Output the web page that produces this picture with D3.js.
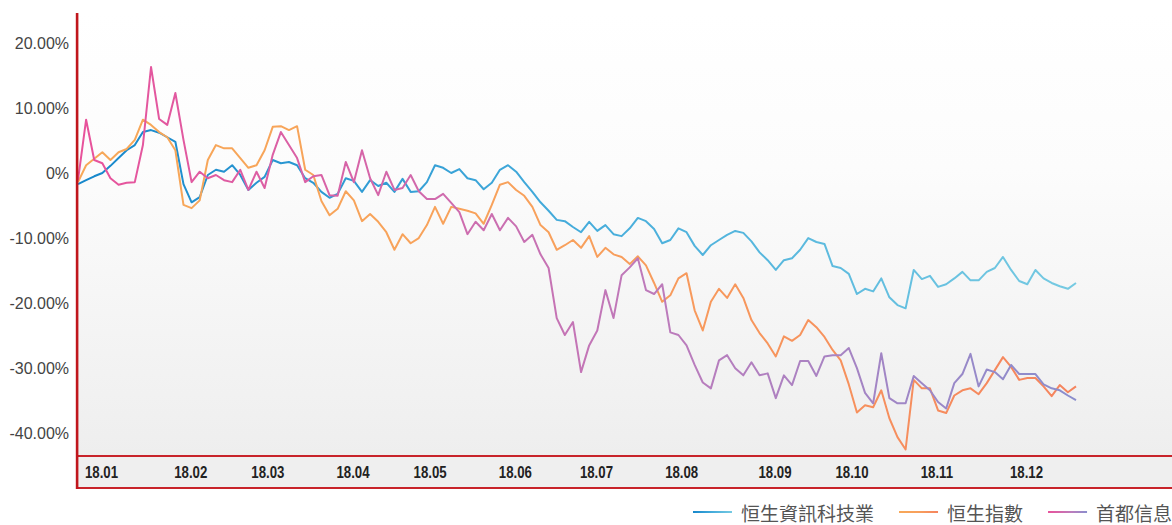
<!DOCTYPE html>
<html>
<head>
<meta charset="utf-8">
<script src="https://cdn.jsdelivr.net/npm/d3@7/dist/d3.min.js"></script>
<style>
  html, body { margin: 0; padding: 0; background: #fff; }
  svg { display: block; }
</style>
</head>
<body>
<svg id="chart" width="1172" height="525"></svg>
<script>
// ---------------- DATA ----------------
// trading-day index of each sample (every 2nd trading day of 2018)
const dayIndex = d3.range(0, 247, 2);
// first trading day index of each month, and month labels
const monthStarts = [0, 22, 41, 62, 81, 102, 122, 143, 166, 185, 206, 228];
const monthLabels = ["18.01","18.02","18.03","18.04","18.05","18.06","18.07","18.08","18.09","18.10","18.11","18.12"];
const yTicks = [20, 10, 0, -10, -20, -30, -40];
const seriesNames = ["恒生資訊科技業", "恒生指數", "首都信息"];

// cumulative return (%)
const hsTech = [-1.7,-1.1,-0.5,0.0,1.1,2.3,3.5,4.3,6.3,6.6,
  6.2,5.5,4.8,-1.7,-4.5,-3.7,-0.3,0.5,0.2,1.2,
  -0.3,-2.6,-1.5,-0.6,2.0,1.5,1.7,1.2,-0.8,-1.5,
  -2.9,-3.8,-3.2,-0.8,-1.2,-2.9,-1.1,-2.0,-1.5,-2.9,
  -0.9,-2.9,-2.8,-1.4,1.2,0.8,0.0,0.6,-0.8,-1.1,
  -2.5,-1.5,0.5,1.2,0.2,-1.4,-2.9,-4.5,-5.8,-7.2,
  -7.4,-8.3,-9.1,-7.5,-8.9,-8.0,-9.4,-9.7,-8.5,-6.9,
  -7.4,-8.6,-10.8,-10.3,-8.5,-9.1,-11.2,-12.6,-11.1,-10.3,
  -9.5,-8.9,-9.2,-10.5,-12.2,-13.4,-14.9,-13.4,-13.1,-11.8,
  -10.0,-10.6,-10.9,-14.3,-14.6,-15.5,-18.6,-17.8,-18.2,-16.2,
  -19.1,-20.3,-20.8,-14.9,-16.3,-15.8,-17.5,-17.1,-16.2,-15.2,
  -16.5,-16.5,-15.2,-14.6,-12.9,-14.9,-16.6,-17.1,-14.9,-16.2,
  -16.9,-17.4,-17.8,-16.9];

const hsi = [-1.4,1.2,2.2,3.2,2.0,3.2,3.7,5.1,8.2,7.4,
  6.3,5.5,3.5,-4.9,-5.4,-4.2,2.0,4.3,3.8,3.8,
  2.3,0.8,1.2,3.5,7.1,7.2,6.6,7.2,0.5,-0.3,
  -4.3,-6.5,-5.5,-2.8,-4.2,-7.4,-6.3,-7.5,-9.1,-11.8,
  -9.4,-10.8,-10.0,-8.0,-5.2,-7.8,-5.2,-5.5,-5.8,-6.2,
  -7.8,-4.9,-1.8,-1.4,-2.6,-3.5,-5.2,-8.0,-9.1,-11.8,
  -11.1,-10.3,-11.5,-9.7,-12.9,-11.5,-12.5,-12.9,-14.0,-12.8,
  -14.2,-16.9,-19.8,-18.8,-16.2,-15.4,-21.1,-24.2,-19.8,-17.8,
  -19.2,-17.1,-19.2,-22.6,-24.6,-26.2,-28.2,-25.1,-25.8,-24.9,
  -22.6,-23.7,-25.2,-27.2,-28.8,-32.5,-36.8,-35.7,-36.0,-33.4,
  -37.7,-40.6,-42.5,-31.8,-33.1,-33.1,-36.5,-36.9,-34.2,-33.4,
  -33.1,-34.0,-32.3,-30.3,-28.3,-29.8,-31.8,-31.5,-31.5,-32.8,
  -34.3,-32.6,-33.7,-32.8];

const capinfo = [-1.1,8.2,2.0,1.5,-0.8,-1.8,-1.5,-1.4,4.3,16.3,
  8.3,7.4,12.3,5.1,-1.4,0.2,-0.8,-0.3,-1.1,-1.4,
  0.5,-2.6,0.2,-2.3,2.8,6.3,4.3,2.3,-1.4,-0.5,
  -0.3,-3.4,-3.5,1.7,-1.4,3.5,-0.8,-3.4,0.2,-2.6,
  -2.3,-0.3,-2.8,-4.0,-4.0,-3.2,-4.6,-6.0,-9.4,-7.5,
  -8.8,-6.3,-8.8,-6.9,-8.2,-10.6,-9.5,-12.5,-14.6,-22.3,
  -24.9,-22.9,-30.6,-26.5,-24.2,-18.0,-22.3,-15.7,-14.5,-13.1,
  -18.0,-18.6,-17.1,-24.5,-24.9,-26.5,-29.5,-32.2,-33.1,-28.8,
  -28.0,-30.0,-31.1,-29.1,-31.1,-30.8,-34.6,-31.1,-32.6,-28.9,
  -28.9,-31.2,-28.2,-28.0,-28.0,-26.9,-30.0,-33.8,-35.4,-27.7,
  -34.6,-35.4,-35.4,-31.2,-32.3,-33.4,-35.2,-36.2,-32.3,-30.9,
  -27.8,-32.8,-30.2,-30.6,-31.7,-29.5,-30.9,-30.9,-30.9,-32.5,
  -33.1,-33.4,-34.2,-34.9];

// ---------------- STYLE ----------------
const gradStops = [
  [["0%","#1687cb"],["50%","#45acdb"],["100%","#76cae2"]],
  [["0%","#f7a858"],["50%","#f8a05c"],["100%","#f5845e"]],
  [["0%","#e8529b"],["30%","#d566a9"],["60%","#bb7cbc"],["100%","#8a8ecd"]]
];

const svg = d3.select("#chart");
const W = 1172;
const plotLeft = 77, plotTop = 13, plotBottom = 456, bandBottom = 488;

const x = d3.scaleLinear().domain([0, 246]).range([78, 1076]);
const y = d3.scaleLinear().domain([-43.5, 24.6]).range([plotBottom, plotTop]);

const defs = svg.append("defs");
const bg = defs.append("linearGradient").attr("id","bgGrad").attr("x1",0).attr("x2",0).attr("y1",0).attr("y2",1);
bg.append("stop").attr("offset","0%").attr("stop-color","#ffffff");
bg.append("stop").attr("offset","35%").attr("stop-color","#fcfcfc");
bg.append("stop").attr("offset","100%").attr("stop-color","#eeeeee");

gradStops.forEach((stops, k) => {
  const g = defs.append("linearGradient").attr("id","lg"+k)
    .attr("gradientUnits","userSpaceOnUse")
    .attr("x1", x(0)).attr("x2", x(246)).attr("y1",0).attr("y2",0);
  stops.forEach(s => g.append("stop").attr("offset", s[0]).attr("stop-color", s[1]));
  const g2 = defs.append("linearGradient").attr("id","lgl"+k)
    .attr("x1",0).attr("x2",1).attr("y1",0).attr("y2",0);
  stops.forEach(s => g2.append("stop").attr("offset", s[0]).attr("stop-color", s[1]));
});

// plot background
svg.append("rect").attr("x", plotLeft).attr("y", plotTop)
  .attr("width", W - plotLeft).attr("height", plotBottom - plotTop)
  .attr("fill", "url(#bgGrad)");

// x band
svg.append("rect").attr("x", plotLeft).attr("y", plotBottom)
  .attr("width", W - plotLeft).attr("height", bandBottom - plotBottom)
  .attr("fill", "#efefef");
[plotBottom, bandBottom].forEach(yy => {
  svg.append("line").attr("x1", plotLeft).attr("x2", W).attr("y1", yy).attr("y2", yy)
    .attr("stroke", "#c8232a").attr("stroke-width", 2);
});

// lines
const series = [hsTech, hsi, capinfo];
const line = d3.line().x((d, i) => x(dayIndex[i])).y(d => y(d));
series.forEach((vals, k) => {
  svg.append("path").datum(vals)
    .attr("d", line)
    .attr("fill", "none")
    .attr("stroke", "url(#lg"+k+")")
    .attr("stroke-width", 2)
    .attr("stroke-linejoin", "round");
});

// y axis labels
const yAxis = d3.axisLeft(y).tickValues(yTicks).tickSize(0).tickPadding(8)
  .tickFormat(v => v === 0 ? "0%" : v.toFixed(2) + "%");
const ya = svg.append("g").attr("transform", `translate(${plotLeft},0)`).call(yAxis);
ya.select(".domain").remove();
ya.selectAll("text")
  .attr("font-family", "'Liberation Sans', Arial, sans-serif")
  .attr("font-size", 16).attr("fill", "#444");

// left red axis line
svg.append("rect").attr("x", 75.8).attr("y", plotTop).attr("width", 2.6)
  .attr("height", bandBottom + 1 - plotTop).attr("fill", "#c0161c");

// x labels (bold, horizontally condensed)
svg.append("g").selectAll("text").data(monthStarts).join("text")
  .attr("transform", d => `translate(${x(d) + 7},472) scale(0.8,1)`)
  .attr("dy", "0.35em")
  .attr("font-family", "'Liberation Sans', Arial, sans-serif")
  .attr("font-weight", "bold")
  .attr("font-size", 16.5)
  .attr("fill", "#222")
  .text((d, i) => monthLabels[i]);

// legend
const lg = svg.append("g");
let lx = 693;
seriesNames.forEach((name, k) => {
  lg.append("rect").attr("x", lx).attr("y", 511).attr("width", 39).attr("height", 2)
    .attr("fill", "url(#lgl"+k+")");
  const t = lg.append("text").attr("x", lx + 48).attr("y", 512)
    .attr("dominant-baseline", "central")
    .attr("font-family", "'Noto Sans CJK TC', 'Noto Sans CJK SC', sans-serif")
    .attr("font-size", 19).attr("fill", "#555")
    .text(name);
  const w = t.node().getComputedTextLength();
  lx = lx + 48 + w + 25;
});
</script>
</body>
</html>
